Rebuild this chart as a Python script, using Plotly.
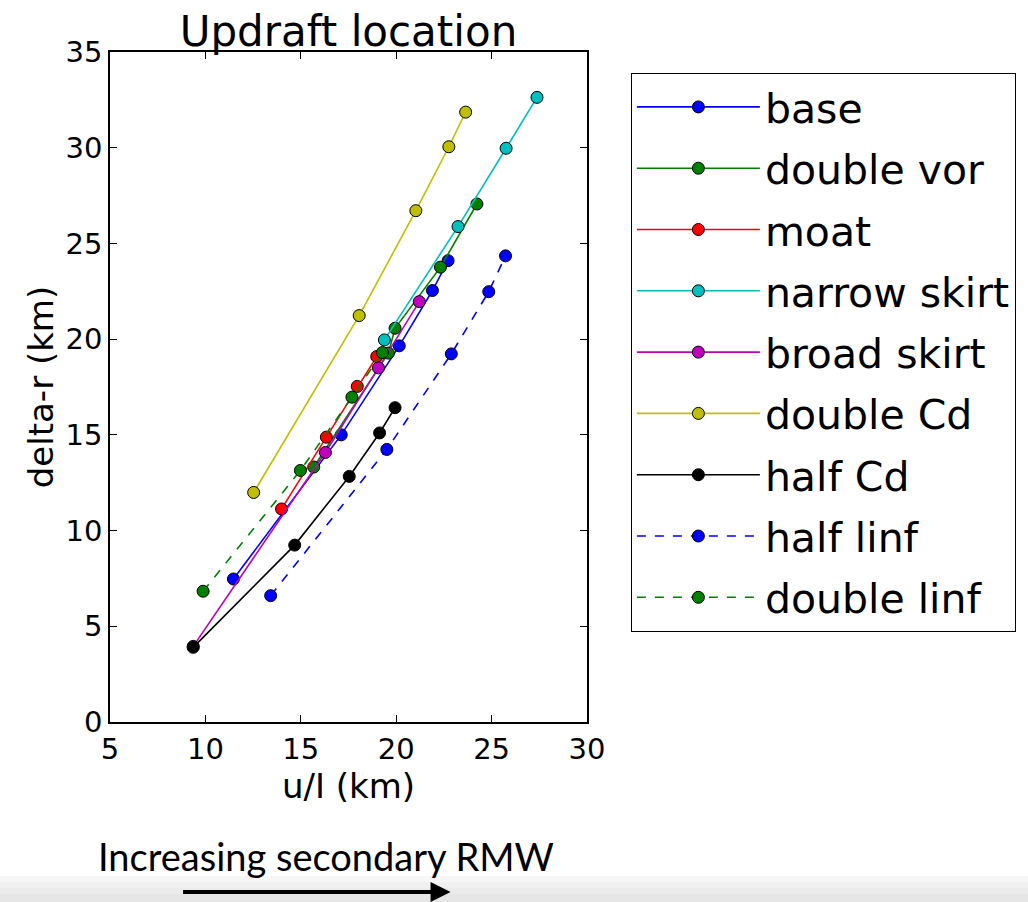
import plotly.graph_objects as go

# ---- data ----
base_x = [11.47, 17.12, 20.16, 21.90, 22.72]
base_y = [7.47, 15.00, 19.65, 22.54, 24.10]
dvor_x = [15.68, 19.59, 19.94, 22.32, 24.23]
dvor_y = [13.32, 19.27, 20.57, 23.76, 27.06]
moat_x = [13.99, 16.34, 17.96, 18.98]
moat_y = [11.13, 14.88, 17.53, 19.09]
narrow_x = [19.38, 23.24, 25.76, 27.38]
narrow_y = [19.96, 25.88, 29.97, 32.63]
broad_x = [9.36, 16.29, 19.07, 21.21]
broad_y = [3.95, 14.08, 18.50, 21.96]
dcd_x = [12.53, 18.06, 21.03, 22.76, 23.64]
dcd_y = [11.99, 21.23, 26.71, 30.05, 31.86]
hcd_x = [9.36, 14.68, 17.54, 19.13, 19.94]
hcd_y = [3.90, 9.24, 12.83, 15.10, 16.42]
hlinf_x = [13.42, 19.51, 22.89, 24.85, 25.73]
hlinf_y = [6.60, 14.24, 19.23, 22.48, 24.35]
dlinf_x = [9.88, 14.98, 17.68, 19.28]
dlinf_y = [6.83, 13.14, 16.97, 19.30]

series = [
    ("base", base_x, base_y, "#0000ff", "solid"),
    ("double vor", dvor_x, dvor_y, "#008000", "solid"),
    ("moat", moat_x, moat_y, "#ff0000", "solid"),
    ("narrow skirt", narrow_x, narrow_y, "#00bfbf", "solid"),
    ("broad skirt", broad_x, broad_y, "#bf00bf", "solid"),
    ("double Cd", dcd_x, dcd_y, "#bfbf00", "solid"),
    ("half Cd", hcd_x, hcd_y, "#000000", "solid"),
    ("half linf", hlinf_x, hlinf_y, "#0000ff", "dash"),
    ("double linf", dlinf_x, dlinf_y, "#008000", "dash"),
]

x_ticks = [5, 10, 15, 20, 25, 30]
y_ticks = [0, 5, 10, 15, 20, 25, 30, 35]

FONT = "DejaVu Sans"

fig = go.Figure()
for name, xs, ys, col, dash in series:
    fig.add_trace(go.Scatter(
        x=xs, y=ys, name=name, mode="lines+markers", legendgroup=name,
        line=dict(color=col, width=1.6, dash=dash),
        marker=dict(color=col, size=12, line=dict(color="black", width=1)),
    ))

axis_common = dict(
    showline=True, linecolor="black", linewidth=1.5, mirror="ticks",
    ticks="inside", ticklen=7, tickwidth=1, tickcolor="black",
    showgrid=False, zeroline=False,
    tickfont=dict(family=FONT, size=29, color="black"),
)

fig.update_layout(
    width=1028, height=902,
    margin=dict(l=110, r=439, t=52, b=180),
    paper_bgcolor="white", plot_bgcolor="white",
    title=dict(text="Updraft location", x=0.5, xref="paper", xanchor="center",
               y=1, yref="paper", yanchor="bottom", pad=dict(b=6),
               font=dict(family=FONT, size=42, color="black")),
    xaxis=dict(range=[5, 30], tickvals=x_ticks,
               title=dict(text="u/I (km)", font=dict(family=FONT, size=34, color="black"), standoff=8),
               **axis_common),
    yaxis=dict(range=[0, 35], tickvals=y_ticks,
               title=dict(text="delta-r (km)", font=dict(family=FONT, size=34, color="black"), standoff=2),
               **axis_common),
    legend=dict(x=1.092, y=0.969, xanchor="left", yanchor="top",
                bordercolor="black", borderwidth=1, bgcolor="white",
                font=dict(family=FONT, size=41, color="black"),
                tracegroupgap=5, itemwidth=123, entrywidth=420),
    showlegend=True,
)

# grey band at bottom of the slide
for i, c in enumerate(["#f6f6f6", "#f0f0f0", "#ebebeb", "#e6e6e6"]):
    fig.add_shape(type="rect", xref="paper", yref="paper",
                  x0=-0.3, x1=2.0, y0=(722 - 876 - i * 6) / 670, y1=-0.5,
                  fillcolor=c, line=dict(width=0), layer="below")

fig.add_annotation(text="Increasing secondary RMW", xref="paper", yref="paper",
                   x=(327 - 110) / 479, y=(722 - 881) / 670, showarrow=False,
                   font=dict(family="Lato", size=38, color="black"))
fig.add_annotation(text="", xref="paper", yref="paper",
                   x=(452 - 110) / 479, y=(722 - 892) / 670,
                   ax=-269, ay=0, showarrow=True, arrowhead=2, arrowsize=1,
                   arrowwidth=4, arrowcolor="black")

fig.write_html("out.html")
